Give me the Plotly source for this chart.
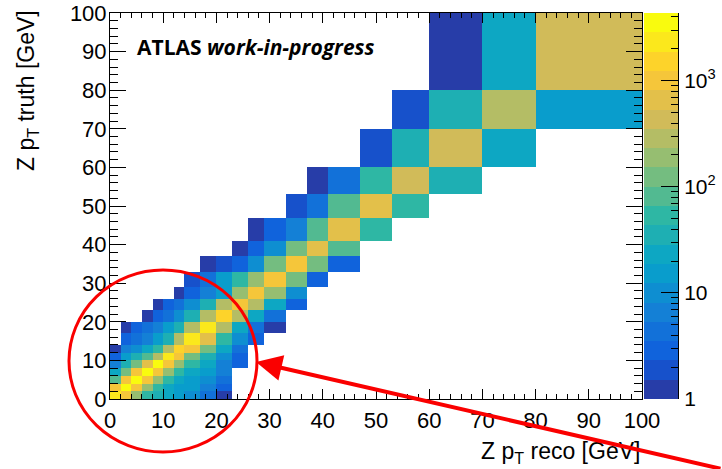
import numpy as np
import plotly.graph_objects as go

# Bin edges in GeV, shared by reco (x) and truth (y)
pt_edges = [0, 2, 4, 6, 8, 10, 12, 14, 17, 20, 23, 26, 29, 33, 37, 41, 47, 53, 60, 70, 80, 100]

# Entries per cell: one list per truth bin (bottom to top), one value per reco bin
counts = [
    [2400, 980, 190, 52, 36, 22, 15, 11, 4, 1, 0, 0, 0, 0, 0, 0, 0, 0, 0, 0, 0],
    [1050, 3600, 1100, 200, 55, 24, 16, 14, 7, 3, 0, 0, 0, 0, 0, 0, 0, 0, 0, 0, 0],
    [85, 1150, 3900, 1200, 210, 58, 25, 17, 10, 4, 0, 0, 0, 0, 0, 0, 0, 0, 0, 0, 0],
    [24, 130, 1000, 4000, 1150, 205, 56, 26, 16, 6, 0, 0, 0, 0, 0, 0, 0, 0, 0, 0, 0],
    [7, 33, 120, 700, 3800, 1100, 200, 60, 25, 7, 3, 0, 0, 0, 0, 0, 0, 0, 0, 0, 0],
    [3, 14, 34, 75, 300, 2500, 1050, 140, 38, 10, 3, 0, 0, 0, 0, 0, 0, 0, 0, 0, 0],
    [1, 7, 10, 22, 50, 280, 1600, 1000, 130, 24, 5, 0, 0, 0, 0, 0, 0, 0, 0, 0, 0],
    [0, 3, 4, 7, 15, 35, 285, 2400, 660, 54, 10, 3, 0, 0, 0, 0, 0, 0, 0, 0, 0],
    [0, 1, 3, 4, 7, 15, 36, 290, 2400, 300, 24, 4, 1, 0, 0, 0, 0, 0, 0, 0, 0],
    [0, 0, 0, 1, 3, 4, 10, 35, 290, 1600, 290, 24, 4, 0, 0, 0, 0, 0, 0, 0, 0],
    [0, 0, 0, 0, 1, 3, 4, 10, 35, 290, 1000, 290, 24, 3, 0, 0, 0, 0, 0, 0, 0],
    [0, 0, 0, 0, 0, 0, 1, 3, 7, 15, 190, 1000, 190, 10, 0, 0, 0, 0, 0, 0, 0],
    [0, 0, 0, 0, 0, 0, 0, 2, 4, 15, 55, 190, 1000, 130, 3, 0, 0, 0, 0, 0, 0],
    [0, 0, 0, 0, 0, 0, 0, 0, 1, 2, 3, 10, 130, 1050, 125, 3, 0, 0, 0, 0, 0],
    [0, 0, 0, 0, 0, 0, 0, 0, 0, 0, 1, 3, 10, 125, 700, 80, 0, 0, 0, 0, 0],
    [0, 0, 0, 0, 0, 0, 0, 0, 0, 0, 0, 1, 3, 7, 80, 700, 55, 0, 0, 0, 0],
    [0, 0, 0, 0, 0, 0, 0, 0, 0, 0, 0, 0, 0, 2, 4, 80, 680, 55, 0, 0, 0],
    [0, 0, 0, 0, 0, 0, 0, 0, 0, 0, 0, 0, 0, 0, 1, 4, 55, 450, 36, 0, 0],
    [0, 0, 0, 0, 0, 0, 0, 0, 0, 0, 0, 0, 0, 0, 0, 0, 2, 36, 440, 23, 0],
    [0, 0, 0, 0, 0, 0, 0, 0, 0, 0, 0, 0, 0, 0, 0, 0, 0, 2, 35, 290, 15],
    [0, 0, 0, 0, 0, 0, 0, 0, 0, 0, 0, 0, 0, 0, 0, 0, 0, 0, 1, 24, 430],
]

# Colour axis range (entries) and colour-bar labels
z_min, z_max = 1, 4360
cbar_tickvals = [1, 10, 100, 1000]
cbar_ticktext = ["1", "10", "10<sup>2</sup>", "10<sup>3</sup>"]
cbar_minor = [2, 3, 4, 5, 6, 7, 8, 9, 20, 30, 40, 50, 60, 70, 80, 90,
              200, 300, 400, 500, 600, 700, 800, 900, 2000, 3000, 4000]

# ROOT "kBird" palette, sampled into 20 contour colours
bird_stops = [0.0, 0.125, 0.25, 0.375, 0.5, 0.625, 0.75, 0.875, 1.0]
bird_r = [0.2082, 0.0592, 0.0780, 0.0232, 0.1802, 0.5301, 0.8186, 0.9956, 0.9764]
bird_g = [0.1664, 0.3599, 0.5041, 0.6419, 0.7178, 0.7492, 0.7328, 0.7862, 0.9832]
bird_b = [0.5293, 0.8684, 0.8385, 0.7914, 0.6425, 0.4662, 0.3499, 0.1968, 0.0539]
n_contours = 20

contour_colors = []
for i in range(n_contours):
    f = int((i + 0.99) * 255 / n_contours) / 254
    r = np.interp(f, bird_stops, bird_r)
    g = np.interp(f, bird_stops, bird_g)
    b = np.interp(f, bird_stops, bird_b)
    contour_colors.append(f"rgb({round(r*255)},{round(g*255)},{round(b*255)})")

stepped = []
for i, c in enumerate(contour_colors):
    stepped.append([i / n_contours, c])
    stepped.append([(i + 1) / n_contours, c])

lz_min, lz_max = np.log10(z_min), np.log10(z_max)
cnt = np.array(counts, dtype=float)
z = np.where(cnt > 0, np.log10(np.where(cnt > 0, cnt, 1)), np.nan)

fig = go.Figure()
fig.add_trace(go.Heatmap(
    x=pt_edges, y=pt_edges, z=z, colorscale=stepped,
    zmin=lz_min, zmax=lz_max, showscale=False, hoverinfo="skip",
    xaxis="x", yaxis="y",
))

# Palette bar drawn as its own heatmap so it gets log-style minor ticks
band_edges = np.linspace(lz_min, lz_max, n_contours + 1)
band_mid = [[(band_edges[i] + band_edges[i + 1]) / 2] for i in range(n_contours)]
fig.add_trace(go.Heatmap(
    x=[0, 1], y=band_edges, z=band_mid, colorscale=stepped,
    zmin=lz_min, zmax=lz_max, showscale=False, hoverinfo="skip",
    xaxis="x2", yaxis="y2",
))

W, H = 722, 469
ml, mr, mt, mb = 110, 42, 13, 70
pw, ph = W - ml - mr, H - mt - mb


def px(xp):
    return (xp - ml) / pw


def py(yp):
    return (H - mb - yp) / ph


label_family = "Liberation Sans, Arial, sans-serif"
tick_font = dict(family=label_family, size=22, color="black")

common = dict(
    showgrid=False, zeroline=False, showline=True, linecolor="black", linewidth=1,
    ticks="inside", tickcolor="black", tickwidth=1, mirror="allticks",
    tickfont=tick_font, range=[0, 100], tick0=0, dtick=10, automargin=False,
)

fig.update_layout(
    width=W, height=H,
    margin=dict(l=ml, r=mr, t=mt, b=mb, pad=0, autoexpand=False),
    paper_bgcolor="white", plot_bgcolor="white",
    showlegend=False,
    xaxis=dict(domain=[0, 532 / pw], anchor="y", ticklen=10, ticklabelstandoff=2,
               minor=dict(dtick=2, ticklen=5, ticks="inside", tickcolor="black"),
               **common),
    yaxis=dict(domain=[0, 1], anchor="x", ticklen=16, ticklabelstandoff=-2,
               minor=dict(dtick=2, ticklen=8, ticks="inside", tickcolor="black"),
               **common),
    xaxis2=dict(domain=[534 / pw, 568 / pw], anchor="y2", range=[0, 1], visible=False),
    yaxis2=dict(domain=[0, 1], anchor="x2", side="right", range=[lz_min, lz_max],
                showgrid=False, zeroline=False, showline=True, linecolor="black",
                automargin=False,
                tickvals=np.log10(cbar_tickvals), ticktext=cbar_ticktext,
                ticks="inside", ticklen=17, tickcolor="black", tickwidth=1,
                ticklabelstandoff=1, tickfont=dict(family=label_family, size=21, color="black"),
                minor=dict(tickvals=np.log10(cbar_minor), ticklen=7,
                           ticks="inside", tickcolor="black")),
)

title_font = dict(family=label_family, size=23, color="black")
fig.add_annotation(text="Z p<sub>T</sub> reco [GeV]", xref="paper", yref="paper",
                   x=px(642), y=py(452), xanchor="right", yanchor="middle",
                   showarrow=False, font=title_font)
fig.add_annotation(text="Z p<sub>T</sub> truth [GeV]", xref="paper", yref="paper",
                   x=px(27), y=py(91), xanchor="center", yanchor="middle",
                   textangle=-90, showarrow=False, font=title_font)
fig.add_annotation(text="<b>ATLAS</b> <b><i>work-in-progress</i></b>",
                   xref="paper", yref="paper", x=px(135), y=py(47),
                   xanchor="left", yanchor="middle", showarrow=False,
                   font=dict(family="Open Sans, sans-serif", size=21, color="black"))

# Highlight of the low-pT region
fig.add_shape(type="circle", xref="paper", yref="paper",
              x0=px(69), x1=px(257), y0=py(452), y1=py(270),
              line=dict(color="rgb(250,0,0)", width=3), layer="above")
fig.add_annotation(text="", xref="paper", yref="paper", x=px(256), y=py(362),
                   ax=475, ay=110, showarrow=True, arrowhead=2, arrowsize=1.3,
                   arrowwidth=4, arrowcolor="rgb(250,0,0)")

fig.write_html("out.html")
